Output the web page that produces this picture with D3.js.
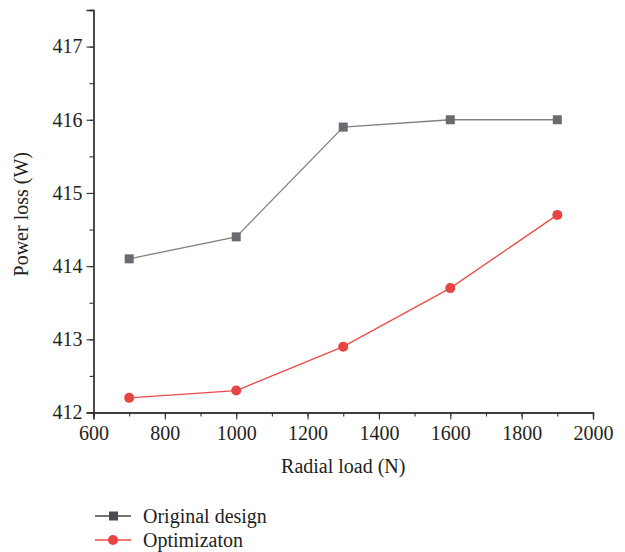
<!DOCTYPE html>
<html lang="en">
<head>
<meta charset="UTF-8">
<title>Power loss</title>
<script src="https://cdnjs.cloudflare.com/ajax/libs/d3/7.8.5/d3.min.js"></script>
<style>
  body { margin: 0; background: #fff; }
  text { font-family: "Liberation Serif", "DejaVu Serif", serif; fill: #231f20; }
</style>
</head>
<body>
<svg id="chart" width="625" height="552"></svg>
<script>
    // data
    const radialLoad = [700, 1000, 1300, 1600, 1900];
    const originalDesign = [414.1, 414.4, 415.9, 416.0, 416.0];
    const optimization = [412.2, 412.3, 412.9, 413.7, 414.7];
    const xTicks = [600, 800, 1000, 1200, 1400, 1600, 1800, 2000];
    const yTicks = [412, 413, 414, 415, 416, 417];
    const seriesNames = ["Original design", "Optimizaton"];

    const svg = d3.select("#chart");
    const plotLeft = 93.5, plotRight = 593, plotTop = 10, plotBottom = 412.5;
    const fontSize = 20;

    const x = d3.scaleLinear().domain([600, 2000]).range([plotLeft, plotRight]);
    const y = d3.scaleLinear().domain([412, 417.5]).range([plotBottom, plotTop]);

    const axisColor = "#333";

    // x axis: minor ticks every 100, labelled ticks every 200
    const xg = svg.append("g").attr("transform", `translate(0,${plotBottom})`);
    xg.call(d3.axisBottom(x).tickValues(d3.range(600, 2001, 100)).tickSize(4).tickFormat(""));
    const xg2 = svg.append("g").attr("transform", `translate(0,${plotBottom})`);
    xg2.call(d3.axisBottom(x).tickValues(xTicks).tickSize(7).tickPadding(6).tickFormat(d3.format("d")));
    [xg, xg2].forEach(g => {
        g.select(".domain").attr("stroke", axisColor).attr("stroke-width", 1.3);
        g.selectAll(".tick line").attr("stroke", axisColor).attr("stroke-width", 1.1);
    });
    xg2.selectAll("text").attr("font-size", fontSize).attr("font-family", "Liberation Serif").attr("fill", "#231f20");

    // y axis: minor ticks every 0.5
    const yg = svg.append("g").attr("transform", `translate(${plotLeft},0)`);
    yg.call(d3.axisLeft(y).tickValues(d3.range(412, 417.6, 0.5)).tickSize(4).tickFormat(""));
    const yg2 = svg.append("g").attr("transform", `translate(${plotLeft},0)`);
    yg2.call(d3.axisLeft(y).tickValues(yTicks).tickSize(7).tickPadding(4).tickFormat(d3.format("d")));
    [yg, yg2].forEach(g => {
        g.select(".domain").attr("stroke", axisColor).attr("stroke-width", 1.3);
        g.selectAll(".tick line").attr("stroke", axisColor).attr("stroke-width", 1.1);
    });
    yg2.selectAll("text").attr("font-size", fontSize).attr("font-family", "Liberation Serif").attr("fill", "#231f20");

    // axis titles
    svg.append("text")
        .attr("x", (plotLeft + plotRight) / 2).attr("y", 473)
        .attr("text-anchor", "middle").attr("font-size", fontSize)
        .text("Radial load (N)");
    svg.append("text")
        .attr("transform", `translate(28,${(plotTop + plotBottom) / 2 + 3}) rotate(-90)`)
        .attr("text-anchor", "middle").attr("font-size", fontSize)
        .text("Power loss (W)");

    const line = d3.line().x((d, i) => x(radialLoad[i])).y(d => y(d));

    const grayLine = "#808080", grayMark = "#6a6a70";
    const redLine = "#ee4b4b", redMark = "#e84444";

    // original design
    svg.append("path").datum(originalDesign)
        .attr("d", line).attr("fill", "none")
        .attr("stroke", grayLine).attr("stroke-width", 1.3);
    svg.selectAll(".sq").data(originalDesign).enter().append("rect")
        .attr("x", (d, i) => x(radialLoad[i]) - 4.5)
        .attr("y", d => y(d) - 4.5)
        .attr("width", 9).attr("height", 9)
        .attr("fill", grayMark);

    // optimization
    svg.append("path").datum(optimization)
        .attr("d", line).attr("fill", "none")
        .attr("stroke", redLine).attr("stroke-width", 1.3);
    svg.selectAll(".dot").data(optimization).enter().append("circle")
        .attr("cx", (d, i) => x(radialLoad[i]))
        .attr("cy", d => y(d))
        .attr("r", 5)
        .attr("fill", redMark);

    // legend
    const legend = svg.append("g").attr("transform", "translate(95,516)");
    seriesNames.forEach((name, i) => {
        const g = legend.append("g").attr("transform", `translate(0,${i * 24})`);
        g.append("line").attr("x1", 0).attr("x2", 36).attr("y1", 0).attr("y2", 0)
            .attr("stroke", i === 0 ? "#444" : redLine).attr("stroke-width", 1.3);
        if (i === 0) {
            g.append("rect").attr("x", 14).attr("y", -4.5).attr("width", 9).attr("height", 9).attr("fill", "#4a4a50");
        } else {
            g.append("circle").attr("cx", 18).attr("cy", 0).attr("r", 5).attr("fill", redMark);
        }
        g.append("text").attr("x", 48).attr("y", 6.5).attr("font-size", fontSize).text(name);
    });
</script>
</body>
</html>
